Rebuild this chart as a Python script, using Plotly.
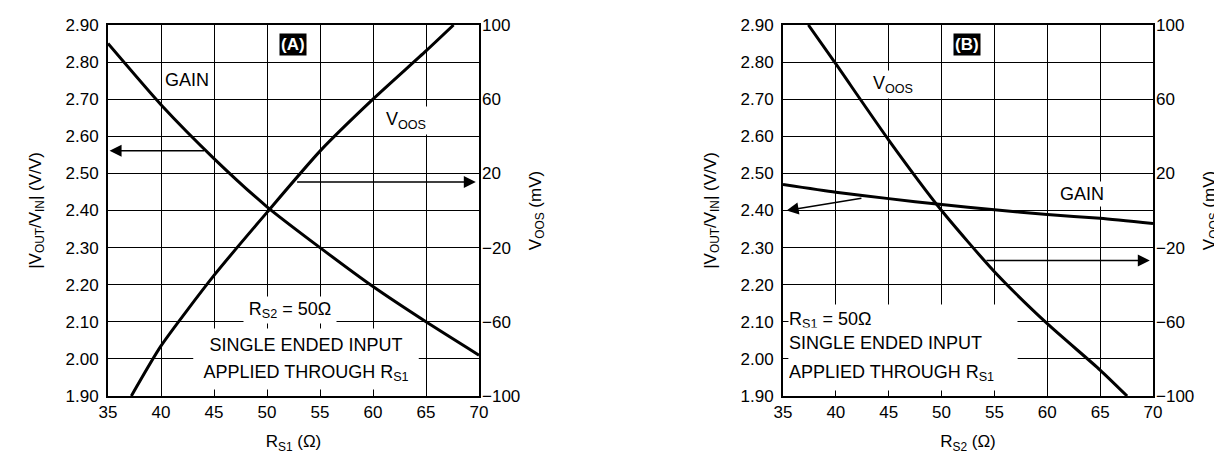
import plotly.graph_objects as go

# ---------------- data ----------------
# Panel A: x = R_S1 (ohm), R_S2 = 50 ohm
rs1_gain = [35, 40, 45, 50, 55, 60, 65, 70]
gain_a = [2.85, 2.685, 2.54, 2.41, 2.30, 2.195, 2.10, 2.01]
rs1_voos = [37.2, 40, 45, 50, 55, 60, 65, 67.6]
voos_a = [-100, -73, -35, -1, 32, 60, 86, 100]

# Panel B: x = R_S2 (ohm), R_S1 = 50 ohm
rs2_gain = [35, 40, 45, 50, 55, 60, 65, 70]
gain_b = [2.47, 2.449, 2.432, 2.416, 2.402, 2.389, 2.379, 2.365]
rs2_voos = [37.4, 40, 45, 50, 55, 60, 65, 67.55]
voos_b = [100, 79, 38, 0, -33, -61, -86, -100]

x_range = [35, 70]
gain_range = [1.9, 2.9]
voos_range = [-100, 100]

FONT = "Liberation Sans, Arial, sans-serif"
W, H = 1222, 452
L, R, T, B = 100, 1222 - 1145, 17, 64
PW = W - L - R

line_style = dict(color="black", width=3, shape="spline", smoothing=0.6)

fig = go.Figure()
fig.add_trace(go.Scatter(x=rs1_gain, y=gain_a, mode="lines", line=line_style,
                         xaxis="x", yaxis="y", showlegend=False))
fig.add_trace(go.Scatter(x=rs1_voos, y=voos_a, mode="lines", line=line_style,
                         xaxis="x", yaxis="y2", showlegend=False))
fig.add_trace(go.Scatter(x=rs2_gain, y=gain_b, mode="lines", line=line_style,
                         xaxis="x2", yaxis="y3", showlegend=False))
fig.add_trace(go.Scatter(x=rs2_voos, y=voos_b, mode="lines", line=line_style,
                         xaxis="x2", yaxis="y4", showlegend=False))

tickfont = dict(family=FONT, size=17, color="black")
titlefont = dict(family=FONT, size=17, color="black")

def xax(domain, anchor, title):
    return dict(domain=domain, anchor=anchor, range=x_range, dtick=5, tick0=35,
                showgrid=True, gridcolor="black", gridwidth=1, zeroline=False,
                showline=True, linecolor="black", linewidth=2, mirror=True,
                ticks="", tickfont=tickfont,
                title=dict(text=title, font=titlefont, standoff=14))

def yleft(anchor, title):
    return dict(anchor=anchor, domain=[0, 1], range=gain_range, dtick=0.1, tick0=1.9,
                tickformat=".2f", showgrid=True, gridcolor="black", gridwidth=1,
                zeroline=False, showline=True, linecolor="black", linewidth=2, mirror=True,
                ticks="", tickfont=tickfont, ticklabelstandoff=4,
                title=dict(text=title, font=titlefont, standoff=20))

def yright(anchor, overlay, title):
    return dict(anchor=anchor, overlaying=overlay, side="right", range=voos_range,
                tick0=-100, dtick=40, showgrid=False, zeroline=False, showline=False,
                ticks="", tickfont=tickfont, ticklabelstandoff=2,
                title=dict(text=title, font=titlefont, standoff=9))

xa_dom = [0, (471 - L) / PW]
xb_dom = [(775 - L) / PW, 1]

ylabel = "|V<sub>OUT</sub>/V<sub>IN</sub>| (V/V)"
vlabel = "V<sub>OOS</sub> (mV)"

fig.update_layout(
    width=W, height=H,
    margin=dict(l=L, r=R, t=T, b=B, autoexpand=False),
    plot_bgcolor="white", paper_bgcolor="white",
    font=dict(family=FONT, color="black"),
    xaxis=xax(xa_dom, "y", "R<sub>S1</sub> (Ω)"),
    yaxis=yleft("x", ylabel),
    yaxis2=yright("x", "y", vlabel),
    xaxis2=xax(xb_dom, "y3", "R<sub>S2</sub> (Ω)"),
    yaxis3=yleft("x2", ylabel),
    yaxis4=yright("x2", "y3", vlabel),
)

afont = dict(family=FONT, size=18, color="black")
ann = []

def label(text, x, y, xref, yref, **kw):
    d = dict(text=text, x=x, y=y, xref=xref, yref=yref, showarrow=False,
             font=afont, bgcolor="white", borderpad=2)
    d.update(kw)
    ann.append(d)

def arrow(x, y, ax, ay, xref, yref):
    ann.append(dict(text="", x=x, y=y, ax=ax, ay=ay, xref=xref, yref=yref,
                    axref=xref, ayref=yref, showarrow=True, arrowhead=2,
                    arrowsize=1.6, arrowwidth=1.5, arrowcolor="black", standoff=0))

# Panel A
label("<b>(A)</b>", 52.45, 2.847, "x", "y", bgcolor="black",
      font=dict(family=FONT, size=17, color="white"), borderpad=1)
label("GAIN", 40.1, 2.751, "x", "y", xanchor="left")
label("V<sub>OOS</sub>", 63.1, 2.643, "x", "y")
label("R<sub>S2</sub> = 50Ω", 52.17, 2.132, "x", "y", width=92, height=26, borderpad=0)
label("SINGLE ENDED INPUT", 53.68, 2.038, "x", "y", width=224, height=32, borderpad=0)
label("APPLIED THROUGH R<sub>S1</sub>", 53.68, 1.962, "x", "y", width=224, height=32,
      borderpad=0)
arrow(35.15, 2.561, 44.2, 2.561, "x", "y")
arrow(69.7, 15.4, 52.7, 15.4, "x", "y2")

# Panel B
label("<b>(B)</b>", 52.4, 2.847, "x2", "y3", bgcolor="black",
      font=dict(family=FONT, size=17, color="white"), borderpad=1)
label("V<sub>OOS</sub>", 45.4, 2.74, "x2", "y3")
label("GAIN", 63.26, 2.444, "x2", "y3")
label("R<sub>S1</sub> = 50Ω", 35.47, 2.106, "x2", "y3", xanchor="left", align="left",
      width=228, height=30, borderpad=0)
label("SINGLE ENDED INPUT", 35.47, 2.043, "x2", "y3", xanchor="left", align="left",
      width=228, height=30, borderpad=0)
label("APPLIED THROUGH R<sub>S1</sub>", 35.47, 1.962, "x2", "y3", xanchor="left",
      align="left", width=228, height=34, borderpad=0)
arrow(35.34, 2.40, 42.56, 2.434, "x2", "y3")
arrow(69.7, -27, 54.1, -27, "x2", "y4")

fig.update_layout(annotations=ann)
fig.write_html("out.html")
